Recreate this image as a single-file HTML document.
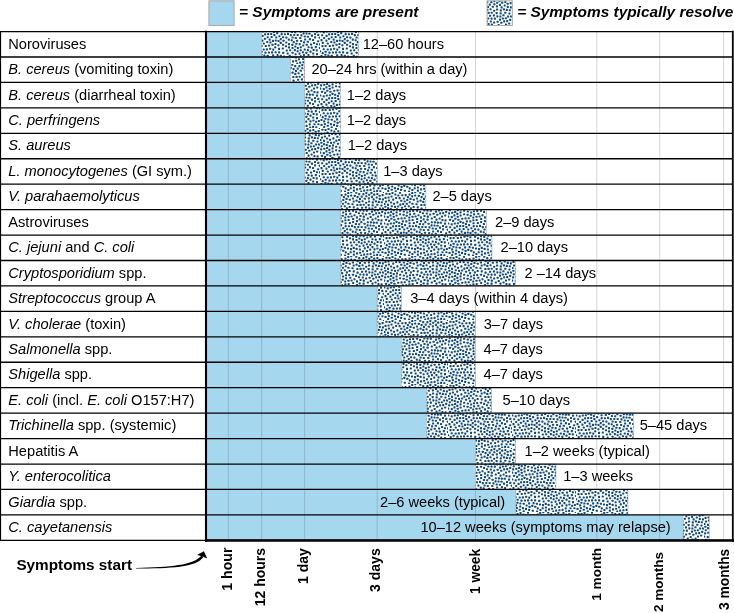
<!DOCTYPE html>
<html><head><meta charset="utf-8"><title>Symptoms timeline</title>
<style>html,body{margin:0;padding:0;background:#fff}svg{display:block;will-change:transform;opacity:.9999}
text{font-family:"Liberation Sans",Arial,sans-serif;fill:#000}
.t{font-size:14.64px}.i{font-style:italic}
.lg{font-size:15.42px;font-weight:bold;font-style:italic}
.ss{font-size:15.3px;font-weight:bold}
.ax{font-size:14px;font-weight:bold;text-anchor:end}
</style></head><body>
<svg width="734" height="613" viewBox="0 0 734 613">
<defs><pattern id="dp" width="64.0" height="64.0" patternUnits="userSpaceOnUse"><rect width="64.0" height="64.0" fill="#fff"/><g fill="#0f4b7d"><rect x="19.63" y="8.49" width="2.1" height="2.1" rx=".55"/><rect x="40.72" y="3.56" width="2.1" height="2.1" rx=".55"/><rect x="33.41" y="22.15" width="2.1" height="2.1" rx=".55"/><rect x="2.66" y="31.35" width="2.1" height="2.1" rx=".55"/><rect x="0.99" y="26.82" width="2.1" height="2.1" rx=".55"/><rect x="3.47" y="4.47" width="2.1" height="2.1" rx=".55"/><rect x="26.14" y="51.81" width="2.1" height="2.1" rx=".55"/><rect x="6.71" y="13.13" width="2.1" height="2.1" rx=".55"/><rect x="39.09" y="59.67" width="2.1" height="2.1" rx=".55"/><rect x="35.90" y="24.33" width="2.1" height="2.1" rx=".55"/><rect x="61.63" y="2.06" width="2.1" height="2.1" rx=".55"/><rect x="53.82" y="17.43" width="2.1" height="2.1" rx=".55"/><rect x="8.15" y="6.55" width="2.1" height="2.1" rx=".55"/><rect x="18.59" y="51.16" width="2.1" height="2.1" rx=".55"/><rect x="10.62" y="36.15" width="2.1" height="2.1" rx=".55"/><rect x="39.50" y="23.00" width="2.1" height="2.1" rx=".55"/><rect x="33.76" y="2.81" width="2.1" height="2.1" rx=".55"/><rect x="2.99" y="11.78" width="2.1" height="2.1" rx=".55"/><rect x="42.51" y="26.61" width="2.1" height="2.1" rx=".55"/><rect x="19.20" y="36.43" width="2.1" height="2.1" rx=".55"/><rect x="28.13" y="17.93" width="2.1" height="2.1" rx=".55"/><rect x="49.62" y="43.69" width="2.1" height="2.1" rx=".55"/><rect x="14.58" y="35.99" width="2.1" height="2.1" rx=".55"/><rect x="32.72" y="54.85" width="2.1" height="2.1" rx=".55"/><rect x="45.76" y="17.62" width="2.1" height="2.1" rx=".55"/><rect x="61.85" y="6.37" width="2.1" height="2.1" rx=".55"/><rect x="25.73" y="47.43" width="2.1" height="2.1" rx=".55"/><rect x="8.78" y="30.19" width="2.1" height="2.1" rx=".55"/><rect x="1.79" y="41.78" width="2.1" height="2.1" rx=".55"/><rect x="47.67" y="35.46" width="2.1" height="2.1" rx=".55"/><rect x="43.19" y="36.98" width="2.1" height="2.1" rx=".55"/><rect x="35.90" y="28.03" width="2.1" height="2.1" rx=".55"/><rect x="52.66" y="59.32" width="2.1" height="2.1" rx=".55"/><rect x="29.24" y="41.39" width="2.1" height="2.1" rx=".55"/><rect x="40.17" y="62.60" width="2.1" height="2.1" rx=".55"/><rect x="23.69" y="41.79" width="2.1" height="2.1" rx=".55"/><rect x="2.65" y="48.14" width="2.1" height="2.1" rx=".55"/><rect x="23.89" y="54.66" width="2.1" height="2.1" rx=".55"/><rect x="4.03" y="27.80" width="2.1" height="2.1" rx=".55"/><rect x="51.42" y="54.04" width="2.1" height="2.1" rx=".55"/><rect x="16.48" y="25.34" width="2.1" height="2.1" rx=".55"/><rect x="10.00" y="13.79" width="2.1" height="2.1" rx=".55"/><rect x="14.03" y="29.74" width="2.1" height="2.1" rx=".55"/><rect x="36.52" y="15.61" width="2.1" height="2.1" rx=".55"/><rect x="22.30" y="35.16" width="2.1" height="2.1" rx=".55"/><rect x="59.83" y="43.17" width="2.1" height="2.1" rx=".55"/><rect x="31.77" y="38.53" width="2.1" height="2.1" rx=".55"/><rect x="56.54" y="49.01" width="2.1" height="2.1" rx=".55"/><rect x="24.19" y="24.40" width="2.1" height="2.1" rx=".55"/><rect x="5.38" y="39.56" width="2.1" height="2.1" rx=".55"/><rect x="12.32" y="9.33" width="2.1" height="2.1" rx=".55"/><rect x="20.56" y="2.09" width="2.1" height="2.1" rx=".55"/><rect x="5.40" y="22.33" width="2.1" height="2.1" rx=".55"/><rect x="0.47" y="54.93" width="2.1" height="2.1" rx=".55"/><rect x="38.26" y="8.86" width="2.1" height="2.1" rx=".55"/><rect x="15.06" y="21.24" width="2.1" height="2.1" rx=".55"/><rect x="22.23" y="6.95" width="2.1" height="2.1" rx=".55"/><rect x="53.16" y="62.40" width="2.1" height="2.1" rx=".55"/><rect x="28.78" y="29.97" width="2.1" height="2.1" rx=".55"/><rect x="21.09" y="16.09" width="2.1" height="2.1" rx=".55"/><rect x="51.73" y="9.36" width="2.1" height="2.1" rx=".55"/><rect x="0.47" y="59.83" width="2.1" height="2.1" rx=".55"/><rect x="32.61" y="8.43" width="2.1" height="2.1" rx=".55"/><rect x="32.84" y="61.61" width="2.1" height="2.1" rx=".55"/><rect x="54.01" y="43.41" width="2.1" height="2.1" rx=".55"/><rect x="9.84" y="48.34" width="2.1" height="2.1" rx=".55"/><rect x="33.17" y="49.20" width="2.1" height="2.1" rx=".55"/><rect x="20.06" y="13.26" width="2.1" height="2.1" rx=".55"/><rect x="53.49" y="50.59" width="2.1" height="2.1" rx=".55"/><rect x="51.42" y="46.17" width="2.1" height="2.1" rx=".55"/><rect x="0.72" y="17.13" width="2.1" height="2.1" rx=".55"/><rect x="15.46" y="43.64" width="2.1" height="2.1" rx=".55"/><rect x="60.51" y="27.37" width="2.1" height="2.1" rx=".55"/><rect x="59.22" y="62.32" width="2.1" height="2.1" rx=".55"/><rect x="60.18" y="22.43" width="2.1" height="2.1" rx=".55"/><rect x="13.13" y="13.46" width="2.1" height="2.1" rx=".55"/><rect x="38.87" y="56.48" width="2.1" height="2.1" rx=".55"/><rect x="52.77" y="29.58" width="2.1" height="2.1" rx=".55"/><rect x="40.55" y="50.27" width="2.1" height="2.1" rx=".55"/><rect x="46.74" y="29.21" width="2.1" height="2.1" rx=".55"/><rect x="24.69" y="59.32" width="2.1" height="2.1" rx=".55"/><rect x="45.10" y="9.72" width="2.1" height="2.1" rx=".55"/><rect x="8.42" y="51.61" width="2.1" height="2.1" rx=".55"/><rect x="7.47" y="-0.08" width="2.1" height="2.1" rx=".55"/><rect x="61.08" y="40.20" width="2.1" height="2.1" rx=".55"/><rect x="32.84" y="58.43" width="2.1" height="2.1" rx=".55"/><rect x="51.65" y="12.35" width="2.1" height="2.1" rx=".55"/><rect x="15.11" y="17.69" width="2.1" height="2.1" rx=".55"/><rect x="7.19" y="57.38" width="2.1" height="2.1" rx=".55"/><rect x="21.32" y="28.36" width="2.1" height="2.1" rx=".55"/><rect x="30.98" y="32.87" width="2.1" height="2.1" rx=".55"/><rect x="27.37" y="10.76" width="2.1" height="2.1" rx=".55"/><rect x="-0.88" y="50.21" width="2.1" height="2.1" rx=".55"/><rect x="20.09" y="32.05" width="2.1" height="2.1" rx=".55"/><rect x="5.55" y="34.86" width="2.1" height="2.1" rx=".55"/><rect x="57.40" y="27.10" width="2.1" height="2.1" rx=".55"/><rect x="38.18" y="31.23" width="2.1" height="2.1" rx=".55"/><rect x="31.95" y="43.10" width="2.1" height="2.1" rx=".55"/><rect x="27.84" y="33.18" width="2.1" height="2.1" rx=".55"/><rect x="29.64" y="59.23" width="2.1" height="2.1" rx=".55"/><rect x="43.73" y="55.31" width="2.1" height="2.1" rx=".55"/><rect x="59.05" y="15.47" width="2.1" height="2.1" rx=".55"/><rect x="49.18" y="56.53" width="2.1" height="2.1" rx=".55"/><rect x="8.76" y="44.95" width="2.1" height="2.1" rx=".55"/><rect x="41.47" y="8.17" width="2.1" height="2.1" rx=".55"/><rect x="12.96" y="59.87" width="2.1" height="2.1" rx=".55"/><rect x="24.50" y="30.18" width="2.1" height="2.1" rx=".55"/><rect x="9.37" y="26.69" width="2.1" height="2.1" rx=".55"/><rect x="11.49" y="19.32" width="2.1" height="2.1" rx=".55"/><rect x="45.30" y="0.07" width="2.1" height="2.1" rx=".55"/><rect x="0.08" y="20.29" width="2.1" height="2.1" rx=".55"/><rect x="3.16" y="61.98" width="2.1" height="2.1" rx=".55"/><rect x="49.49" y="60.83" width="2.1" height="2.1" rx=".55"/><rect x="5.67" y="15.95" width="2.1" height="2.1" rx=".55"/><rect x="16.24" y="7.66" width="2.1" height="2.1" rx=".55"/><rect x="51.35" y="15.44" width="2.1" height="2.1" rx=".55"/><rect x="35.24" y="43.82" width="2.1" height="2.1" rx=".55"/><rect x="3.80" y="59.06" width="2.1" height="2.1" rx=".55"/><rect x="4.40" y="53.71" width="2.1" height="2.1" rx=".55"/><rect x="32.74" y="14.28" width="2.1" height="2.1" rx=".55"/><rect x="6.05" y="9.49" width="2.1" height="2.1" rx=".55"/><rect x="18.77" y="18.44" width="2.1" height="2.1" rx=".55"/><rect x="14.94" y="-0.24" width="2.1" height="2.1" rx=".55"/><rect x="58.75" y="5.86" width="2.1" height="2.1" rx=".55"/><rect x="51.46" y="26.54" width="2.1" height="2.1" rx=".55"/><rect x="30.59" y="52.49" width="2.1" height="2.1" rx=".55"/><rect x="44.11" y="39.89" width="2.1" height="2.1" rx=".55"/><rect x="25.04" y="21.31" width="2.1" height="2.1" rx=".55"/><rect x="16.97" y="14.64" width="2.1" height="2.1" rx=".55"/><rect x="17.86" y="28.29" width="2.1" height="2.1" rx=".55"/><rect x="16.03" y="60.78" width="2.1" height="2.1" rx=".55"/><rect x="61.25" y="33.87" width="2.1" height="2.1" rx=".55"/><rect x="18.56" y="21.76" width="2.1" height="2.1" rx=".55"/><rect x="-0.84" y="23.54" width="2.1" height="2.1" rx=".55"/><rect x="1.41" y="0.71" width="2.1" height="2.1" rx=".55"/><rect x="47.03" y="41.32" width="2.1" height="2.1" rx=".55"/><rect x="1.64" y="52.12" width="2.1" height="2.1" rx=".55"/><rect x="55.99" y="38.98" width="2.1" height="2.1" rx=".55"/><rect x="45.89" y="51.13" width="2.1" height="2.1" rx=".55"/><rect x="42.61" y="43.11" width="2.1" height="2.1" rx=".55"/><rect x="34.62" y="39.24" width="2.1" height="2.1" rx=".55"/><rect x="39.30" y="42.63" width="2.1" height="2.1" rx=".55"/><rect x="30.23" y="-0.87" width="2.1" height="2.1" rx=".55"/><rect x="46.37" y="61.23" width="2.1" height="2.1" rx=".55"/><rect x="30.55" y="23.46" width="2.1" height="2.1" rx=".55"/><rect x="48.13" y="38.44" width="2.1" height="2.1" rx=".55"/><rect x="35.25" y="-0.24" width="2.1" height="2.1" rx=".55"/><rect x="42.49" y="17.56" width="2.1" height="2.1" rx=".55"/><rect x="32.07" y="28.98" width="2.1" height="2.1" rx=".55"/><rect x="28.74" y="6.63" width="2.1" height="2.1" rx=".55"/><rect x="56.20" y="11.71" width="2.1" height="2.1" rx=".55"/><rect x="61.36" y="59.16" width="2.1" height="2.1" rx=".55"/><rect x="13.55" y="56.49" width="2.1" height="2.1" rx=".55"/><rect x="-0.70" y="30.39" width="2.1" height="2.1" rx=".55"/><rect x="8.31" y="20.78" width="2.1" height="2.1" rx=".55"/><rect x="62.85" y="46.96" width="2.1" height="2.1" rx=".55"/><rect x="56.77" y="17.24" width="2.1" height="2.1" rx=".55"/><rect x="62.67" y="36.64" width="2.1" height="2.1" rx=".55"/><rect x="31.48" y="11.24" width="2.1" height="2.1" rx=".55"/><rect x="17.26" y="2.17" width="2.1" height="2.1" rx=".55"/><rect x="29.21" y="20.76" width="2.1" height="2.1" rx=".55"/><rect x="18.18" y="46.26" width="2.1" height="2.1" rx=".55"/><rect x="11.10" y="4.94" width="2.1" height="2.1" rx=".55"/><rect x="35.60" y="55.80" width="2.1" height="2.1" rx=".55"/><rect x="46.71" y="25.47" width="2.1" height="2.1" rx=".55"/><rect x="59.95" y="53.12" width="2.1" height="2.1" rx=".55"/><rect x="6.48" y="3.52" width="2.1" height="2.1" rx=".55"/><rect x="23.75" y="13.22" width="2.1" height="2.1" rx=".55"/><rect x="55.69" y="29.64" width="2.1" height="2.1" rx=".55"/><rect x="25.81" y="15.37" width="2.1" height="2.1" rx=".55"/><rect x="41.95" y="58.14" width="2.1" height="2.1" rx=".55"/><rect x="42.67" y="11.66" width="2.1" height="2.1" rx=".55"/><rect x="61.10" y="18.79" width="2.1" height="2.1" rx=".55"/><rect x="13.09" y="47.64" width="2.1" height="2.1" rx=".55"/><rect x="13.16" y="25.64" width="2.1" height="2.1" rx=".55"/><rect x="2.76" y="24.04" width="2.1" height="2.1" rx=".55"/><rect x="56.37" y="55.51" width="2.1" height="2.1" rx=".55"/><rect x="60.42" y="12.41" width="2.1" height="2.1" rx=".55"/><rect x="22.06" y="51.32" width="2.1" height="2.1" rx=".55"/><rect x="11.57" y="22.42" width="2.1" height="2.1" rx=".55"/><rect x="56.28" y="0.89" width="2.1" height="2.1" rx=".55"/><rect x="48.14" y="1.69" width="2.1" height="2.1" rx=".55"/><rect x="37.91" y="20.20" width="2.1" height="2.1" rx=".55"/><rect x="1.05" y="34.23" width="2.1" height="2.1" rx=".55"/><rect x="19.80" y="61.69" width="2.1" height="2.1" rx=".55"/><rect x="24.01" y="62.45" width="2.1" height="2.1" rx=".55"/><rect x="50.77" y="40.69" width="2.1" height="2.1" rx=".55"/><rect x="8.67" y="17.03" width="2.1" height="2.1" rx=".55"/><rect x="5.78" y="30.46" width="2.1" height="2.1" rx=".55"/><rect x="30.12" y="2.41" width="2.1" height="2.1" rx=".55"/><rect x="52.58" y="6.34" width="2.1" height="2.1" rx=".55"/><rect x="37.22" y="34.01" width="2.1" height="2.1" rx=".55"/><rect x="26.06" y="36.14" width="2.1" height="2.1" rx=".55"/><rect x="27.62" y="26.96" width="2.1" height="2.1" rx=".55"/><rect x="47.68" y="48.50" width="2.1" height="2.1" rx=".55"/><rect x="54.91" y="34.59" width="2.1" height="2.1" rx=".55"/><rect x="21.99" y="47.84" width="2.1" height="2.1" rx=".55"/><rect x="0.99" y="8.43" width="2.1" height="2.1" rx=".55"/><rect x="38.61" y="26.35" width="2.1" height="2.1" rx=".55"/><rect x="36.33" y="12.01" width="2.1" height="2.1" rx=".55"/><rect x="58.80" y="46.05" width="2.1" height="2.1" rx=".55"/><rect x="49.43" y="32.51" width="2.1" height="2.1" rx=".55"/><rect x="15.89" y="39.86" width="2.1" height="2.1" rx=".55"/><rect x="55.11" y="20.32" width="2.1" height="2.1" rx=".55"/><rect x="12.61" y="38.53" width="2.1" height="2.1" rx=".55"/><rect x="43.71" y="46.17" width="2.1" height="2.1" rx=".55"/><rect x="3.12" y="36.91" width="2.1" height="2.1" rx=".55"/><rect x="57.44" y="59.22" width="2.1" height="2.1" rx=".55"/><rect x="39.25" y="17.40" width="2.1" height="2.1" rx=".55"/><rect x="47.58" y="12.05" width="2.1" height="2.1" rx=".55"/><rect x="22.11" y="19.47" width="2.1" height="2.1" rx=".55"/><rect x="21.34" y="44.20" width="2.1" height="2.1" rx=".55"/><rect x="43.53" y="30.77" width="2.1" height="2.1" rx=".55"/><rect x="43.61" y="49.22" width="2.1" height="2.1" rx=".55"/><rect x="55.66" y="4.50" width="2.1" height="2.1" rx=".55"/><rect x="7.94" y="37.65" width="2.1" height="2.1" rx=".55"/><rect x="35.47" y="46.95" width="2.1" height="2.1" rx=".55"/><rect x="10.22" y="40.96" width="2.1" height="2.1" rx=".55"/><rect x="26.01" y="43.77" width="2.1" height="2.1" rx=".55"/><rect x="21.41" y="39.92" width="2.1" height="2.1" rx=".55"/><rect x="52.26" y="21.77" width="2.1" height="2.1" rx=".55"/><rect x="26.48" y="39.74" width="2.1" height="2.1" rx=".55"/><rect x="41.01" y="14.69" width="2.1" height="2.1" rx=".55"/><rect x="37.81" y="49.03" width="2.1" height="2.1" rx=".55"/><rect x="26.96" y="55.46" width="2.1" height="2.1" rx=".55"/><rect x="39.97" y="39.65" width="2.1" height="2.1" rx=".55"/><rect x="20.56" y="54.11" width="2.1" height="2.1" rx=".55"/><rect x="1.46" y="45.12" width="2.1" height="2.1" rx=".55"/><rect x="-0.60" y="10.96" width="2.1" height="2.1" rx=".55"/><rect x="47.81" y="5.30" width="2.1" height="2.1" rx=".55"/><rect x="10.35" y="1.45" width="2.1" height="2.1" rx=".55"/><rect x="50.86" y="35.71" width="2.1" height="2.1" rx=".55"/><rect x="25.45" y="5.84" width="2.1" height="2.1" rx=".55"/><rect x="6.70" y="60.75" width="2.1" height="2.1" rx=".55"/><rect x="44.87" y="14.35" width="2.1" height="2.1" rx=".55"/><rect x="50.98" y="3.86" width="2.1" height="2.1" rx=".55"/><rect x="59.70" y="49.31" width="2.1" height="2.1" rx=".55"/><rect x="4.59" y="50.67" width="2.1" height="2.1" rx=".55"/><rect x="29.35" y="36.54" width="2.1" height="2.1" rx=".55"/><rect x="13.30" y="2.39" width="2.1" height="2.1" rx=".55"/><rect x="44.42" y="34.32" width="2.1" height="2.1" rx=".55"/><rect x="19.26" y="56.82" width="2.1" height="2.1" rx=".55"/><rect x="15.29" y="11.58" width="2.1" height="2.1" rx=".55"/><rect x="52.41" y="32.69" width="2.1" height="2.1" rx=".55"/><rect x="35.51" y="7.61" width="2.1" height="2.1" rx=".55"/><rect x="60.00" y="30.55" width="2.1" height="2.1" rx=".55"/><rect x="15.03" y="51.36" width="2.1" height="2.1" rx=".55"/><rect x="43.81" y="5.76" width="2.1" height="2.1" rx=".55"/><rect x="48.54" y="20.67" width="2.1" height="2.1" rx=".55"/><rect x="52.85" y="38.09" width="2.1" height="2.1" rx=".55"/><rect x="11.94" y="44.43" width="2.1" height="2.1" rx=".55"/><rect x="54.40" y="14.26" width="2.1" height="2.1" rx=".55"/><rect x="38.54" y="53.27" width="2.1" height="2.1" rx=".55"/><rect x="34.88" y="30.99" width="2.1" height="2.1" rx=".55"/><rect x="45.11" y="21.44" width="2.1" height="2.1" rx=".55"/><rect x="27.45" y="23.69" width="2.1" height="2.1" rx=".55"/><rect x="36.05" y="60.34" width="2.1" height="2.1" rx=".55"/><rect x="50.94" y="18.58" width="2.1" height="2.1" rx=".55"/><rect x="29.73" y="49.42" width="2.1" height="2.1" rx=".55"/><rect x="21.88" y="10.72" width="2.1" height="2.1" rx=".55"/><rect x="35.07" y="18.83" width="2.1" height="2.1" rx=".55"/><rect x="46.20" y="44.47" width="2.1" height="2.1" rx=".55"/><rect x="4.53" y="44.92" width="2.1" height="2.1" rx=".55"/><rect x="27.30" y="60.97" width="2.1" height="2.1" rx=".55"/><rect x="32.08" y="25.92" width="2.1" height="2.1" rx=".55"/><rect x="36.55" y="4.07" width="2.1" height="2.1" rx=".55"/><rect x="58.02" y="36.31" width="2.1" height="2.1" rx=".55"/><rect x="11.10" y="33.06" width="2.1" height="2.1" rx=".55"/><rect x="38.27" y="45.42" width="2.1" height="2.1" rx=".55"/><rect x="46.07" y="57.90" width="2.1" height="2.1" rx=".55"/><rect x="33.76" y="34.05" width="2.1" height="2.1" rx=".55"/><rect x="43.13" y="61.55" width="2.1" height="2.1" rx=".55"/><rect x="62.72" y="-1.01" width="2.1" height="2.1" rx=".55"/><rect x="40.60" y="34.02" width="2.1" height="2.1" rx=".55"/><rect x="28.95" y="45.15" width="2.1" height="2.1" rx=".55"/><rect x="57.97" y="32.89" width="2.1" height="2.1" rx=".55"/><rect x="24.44" y="1.53" width="2.1" height="2.1" rx=".55"/><rect x="54.88" y="8.32" width="2.1" height="2.1" rx=".55"/><rect x="21.64" y="22.74" width="2.1" height="2.1" rx=".55"/><rect x="9.83" y="59.09" width="2.1" height="2.1" rx=".55"/><rect x="31.97" y="17.67" width="2.1" height="2.1" rx=".55"/><rect x="28.59" y="14.00" width="2.1" height="2.1" rx=".55"/><rect x="6.70" y="42.50" width="2.1" height="2.1" rx=".55"/><rect x="35.56" y="51.77" width="2.1" height="2.1" rx=".55"/><rect x="22.17" y="57.67" width="2.1" height="2.1" rx=".55"/><rect x="10.76" y="54.74" width="2.1" height="2.1" rx=".55"/><rect x="3.21" y="19.65" width="2.1" height="2.1" rx=".55"/><rect x="56.98" y="23.38" width="2.1" height="2.1" rx=".55"/><rect x="27.17" y="3.31" width="2.1" height="2.1" rx=".55"/><rect x="49.30" y="51.79" width="2.1" height="2.1" rx=".55"/><rect x="48.03" y="8.49" width="2.1" height="2.1" rx=".55"/><rect x="0.29" y="13.72" width="2.1" height="2.1" rx=".55"/><rect x="60.76" y="9.23" width="2.1" height="2.1" rx=".55"/><rect x="40.31" y="29.12" width="2.1" height="2.1" rx=".55"/><rect x="19.67" y="25.21" width="2.1" height="2.1" rx=".55"/><rect x="18.69" y="39.51" width="2.1" height="2.1" rx=".55"/><rect x="46.85" y="54.08" width="2.1" height="2.1" rx=".55"/><rect x="42.38" y="1.10" width="2.1" height="2.1" rx=".55"/><rect x="16.81" y="31.07" width="2.1" height="2.1" rx=".55"/><rect x="16.23" y="48.57" width="2.1" height="2.1" rx=".55"/><rect x="24.66" y="9.18" width="2.1" height="2.1" rx=".55"/><rect x="38.20" y="1.12" width="2.1" height="2.1" rx=".55"/><rect x="61.85" y="55.94" width="2.1" height="2.1" rx=".55"/><rect x="16.54" y="57.79" width="2.1" height="2.1" rx=".55"/><rect x="6.69" y="48.50" width="2.1" height="2.1" rx=".55"/><rect x="54.54" y="25.45" width="2.1" height="2.1" rx=".55"/><rect x="56.19" y="52.40" width="2.1" height="2.1" rx=".55"/><rect x="39.51" y="11.85" width="2.1" height="2.1" rx=".55"/><rect x="11.88" y="51.38" width="2.1" height="2.1" rx=".55"/><rect x="0.47" y="4.85" width="2.1" height="2.1" rx=".55"/><rect x="18.79" y="5.38" width="2.1" height="2.1" rx=".55"/><rect x="16.08" y="54.35" width="2.1" height="2.1" rx=".55"/><rect x="4.51" y="0.97" width="2.1" height="2.1" rx=".55"/><rect x="41.72" y="20.52" width="2.1" height="2.1" rx=".55"/><rect x="59.03" y="56.65" width="2.1" height="2.1" rx=".55"/><rect x="31.86" y="5.42" width="2.1" height="2.1" rx=".55"/><rect x="17.33" y="34.05" width="2.1" height="2.1" rx=".55"/><rect x="10.62" y="62.29" width="2.1" height="2.1" rx=".55"/><rect x="6.06" y="18.87" width="2.1" height="2.1" rx=".55"/><rect x="49.64" y="23.95" width="2.1" height="2.1" rx=".55"/><rect x="24.62" y="33.12" width="2.1" height="2.1" rx=".55"/><rect x="56.97" y="42.00" width="2.1" height="2.1" rx=".55"/><rect x="48.32" y="15.32" width="2.1" height="2.1" rx=".55"/><rect x="8.96" y="10.74" width="2.1" height="2.1" rx=".55"/><rect x="6.27" y="25.71" width="2.1" height="2.1" rx=".55"/><rect x="14.60" y="5.09" width="2.1" height="2.1" rx=".55"/><rect x="57.76" y="8.87" width="2.1" height="2.1" rx=".55"/><rect x="35.52" y="36.51" width="2.1" height="2.1" rx=".55"/><rect x="38.74" y="36.93" width="2.1" height="2.1" rx=".55"/><rect x="54.68" y="46.61" width="2.1" height="2.1" rx=".55"/><rect x="53.46" y="56.28" width="2.1" height="2.1" rx=".55"/><rect x="50.41" y="-0.17" width="2.1" height="2.1" rx=".55"/><rect x="56.00" y="61.80" width="2.1" height="2.1" rx=".55"/><rect x="42.50" y="52.53" width="2.1" height="2.1" rx=".55"/><rect x="8.05" y="33.30" width="2.1" height="2.1" rx=".55"/><rect x="18.43" y="42.99" width="2.1" height="2.1" rx=".55"/><rect x="58.18" y="20.06" width="2.1" height="2.1" rx=".55"/><rect x="40.82" y="47.05" width="2.1" height="2.1" rx=".55"/><rect x="14.12" y="32.90" width="2.1" height="2.1" rx=".55"/><rect x="11.40" y="28.80" width="2.1" height="2.1" rx=".55"/><rect x="49.78" y="29.30" width="2.1" height="2.1" rx=".55"/><rect x="22.88" y="4.03" width="2.1" height="2.1" rx=".55"/><rect x="27.18" y="-0.01" width="2.1" height="2.1" rx=".55"/><rect x="62.87" y="43.28" width="2.1" height="2.1" rx=".55"/><rect x="36.68" y="41.11" width="2.1" height="2.1" rx=".55"/><rect x="0.44" y="39.05" width="2.1" height="2.1" rx=".55"/><rect x="24.88" y="18.14" width="2.1" height="2.1" rx=".55"/><rect x="8.73" y="23.75" width="2.1" height="2.1" rx=".55"/><rect x="38.91" y="5.87" width="2.1" height="2.1" rx=".55"/><rect x="53.14" y="1.58" width="2.1" height="2.1" rx=".55"/><rect x="11.95" y="16.35" width="2.1" height="2.1" rx=".55"/><rect x="18.07" y="10.94" width="2.1" height="2.1" rx=".55"/><rect x="24.34" y="27.25" width="2.1" height="2.1" rx=".55"/><rect x="13.35" y="41.52" width="2.1" height="2.1" rx=".55"/><rect x="3.03" y="15.08" width="2.1" height="2.1" rx=".55"/><rect x="29.95" y="56.09" width="2.1" height="2.1" rx=".55"/><rect x="46.53" y="32.32" width="2.1" height="2.1" rx=".55"/><rect x="58.65" y="2.73" width="2.1" height="2.1" rx=".55"/><rect x="50.81" y="49.09" width="2.1" height="2.1" rx=".55"/><rect x="61.97" y="15.51" width="2.1" height="2.1" rx=".55"/><rect x="42.76" y="23.59" width="2.1" height="2.1" rx=".55"/><rect x="45.31" y="3.13" width="2.1" height="2.1" rx=".55"/><rect x="7.32" y="54.42" width="2.1" height="2.1" rx=".55"/><rect x="31.90" y="46.34" width="2.1" height="2.1" rx=".55"/><rect x="3.12" y="56.34" width="2.1" height="2.1" rx=".55"/><rect x="23.67" y="38.08" width="2.1" height="2.1" rx=".55"/><rect x="3.90" y="7.48" width="2.1" height="2.1" rx=".55"/></g></pattern></defs>
<rect width="734" height="613" fill="#fff"/>
<rect x="208.9" y="0.8" width="25.2" height="24.7" fill="#a5d7ee" stroke="#a9a9a9" stroke-width="1"/>
<text class="lg" x="239.1" y="17">= Symptoms are present</text>
<rect x="487.1" y="0.8" width="25.2" height="24.7" fill="url(#dp)" stroke="#a9a9a9" stroke-width="1"/>
<text class="lg" x="517.2" y="17">= Symptoms typically resolve</text>
<rect x="206.0" y="31.55" width="55.50" height="25.44" fill="#a5d7ee"/>
<rect x="206.0" y="56.99" width="84.60" height="25.44" fill="#a5d7ee"/>
<rect x="206.0" y="82.43" width="98.60" height="25.44" fill="#a5d7ee"/>
<rect x="206.0" y="107.87" width="98.60" height="25.44" fill="#a5d7ee"/>
<rect x="206.0" y="133.31" width="98.60" height="25.44" fill="#a5d7ee"/>
<rect x="206.0" y="158.75" width="98.60" height="25.44" fill="#a5d7ee"/>
<rect x="206.0" y="184.19" width="134.40" height="25.44" fill="#a5d7ee"/>
<rect x="206.0" y="209.63" width="134.40" height="25.44" fill="#a5d7ee"/>
<rect x="206.0" y="235.07" width="134.40" height="25.44" fill="#a5d7ee"/>
<rect x="206.0" y="260.51" width="134.40" height="25.44" fill="#a5d7ee"/>
<rect x="206.0" y="285.95" width="171.30" height="25.44" fill="#a5d7ee"/>
<rect x="206.0" y="311.39" width="171.30" height="25.44" fill="#a5d7ee"/>
<rect x="206.0" y="336.83" width="195.40" height="25.44" fill="#a5d7ee"/>
<rect x="206.0" y="362.27" width="195.40" height="25.44" fill="#a5d7ee"/>
<rect x="206.0" y="387.71" width="220.30" height="25.44" fill="#a5d7ee"/>
<rect x="206.0" y="413.15" width="220.30" height="25.44" fill="#a5d7ee"/>
<rect x="206.0" y="438.59" width="269.40" height="25.44" fill="#a5d7ee"/>
<rect x="206.0" y="464.03" width="269.40" height="25.44" fill="#a5d7ee"/>
<rect x="206.0" y="489.47" width="309.70" height="25.44" fill="#a5d7ee"/>
<rect x="206.0" y="514.91" width="477.00" height="25.44" fill="#a5d7ee"/>
<line x1="228.4" x2="228.4" y1="31.55" y2="540.35" stroke="rgba(95,100,110,0.27)" stroke-width="1"/>
<line x1="261.6" x2="261.6" y1="31.55" y2="540.35" stroke="rgba(95,100,110,0.27)" stroke-width="1"/>
<line x1="304.6" x2="304.6" y1="31.55" y2="540.35" stroke="rgba(95,100,110,0.27)" stroke-width="1"/>
<line x1="377.2" x2="377.2" y1="31.55" y2="540.35" stroke="rgba(95,100,110,0.27)" stroke-width="1"/>
<line x1="475.5" x2="475.5" y1="31.55" y2="540.35" stroke="rgba(95,100,110,0.27)" stroke-width="1"/>
<line x1="596.8" x2="596.8" y1="31.55" y2="540.35" stroke="rgba(95,100,110,0.27)" stroke-width="1"/>
<line x1="659.7" x2="659.7" y1="31.55" y2="540.35" stroke="rgba(95,100,110,0.27)" stroke-width="1"/>
<line x1="723.6" x2="723.6" y1="31.55" y2="540.35" stroke="rgba(95,100,110,0.27)" stroke-width="1"/>
<rect x="261.50" y="31.55" width="97.30" height="25.44" fill="url(#dp)" stroke="#b5b5b5" stroke-width=".6"/>
<rect x="290.60" y="56.99" width="14.00" height="25.44" fill="url(#dp)" stroke="#b5b5b5" stroke-width=".6"/>
<rect x="304.60" y="82.43" width="36.10" height="25.44" fill="url(#dp)" stroke="#b5b5b5" stroke-width=".6"/>
<rect x="304.60" y="107.87" width="36.10" height="25.44" fill="url(#dp)" stroke="#b5b5b5" stroke-width=".6"/>
<rect x="304.60" y="133.31" width="36.10" height="25.44" fill="url(#dp)" stroke="#b5b5b5" stroke-width=".6"/>
<rect x="304.60" y="158.75" width="72.60" height="25.44" fill="url(#dp)" stroke="#b5b5b5" stroke-width=".6"/>
<rect x="340.40" y="184.19" width="85.50" height="25.44" fill="url(#dp)" stroke="#b5b5b5" stroke-width=".6"/>
<rect x="340.40" y="209.63" width="146.00" height="25.44" fill="url(#dp)" stroke="#b5b5b5" stroke-width=".6"/>
<rect x="340.40" y="235.07" width="151.60" height="25.44" fill="url(#dp)" stroke="#b5b5b5" stroke-width=".6"/>
<rect x="340.40" y="260.51" width="175.20" height="25.44" fill="url(#dp)" stroke="#b5b5b5" stroke-width=".6"/>
<rect x="377.30" y="285.95" width="24.10" height="25.44" fill="url(#dp)" stroke="#b5b5b5" stroke-width=".6"/>
<rect x="377.30" y="311.39" width="97.90" height="25.44" fill="url(#dp)" stroke="#b5b5b5" stroke-width=".6"/>
<rect x="401.40" y="336.83" width="73.80" height="25.44" fill="url(#dp)" stroke="#b5b5b5" stroke-width=".6"/>
<rect x="401.40" y="362.27" width="73.80" height="25.44" fill="url(#dp)" stroke="#b5b5b5" stroke-width=".6"/>
<rect x="426.30" y="387.71" width="65.40" height="25.44" fill="url(#dp)" stroke="#b5b5b5" stroke-width=".6"/>
<rect x="426.30" y="413.15" width="207.40" height="25.44" fill="url(#dp)" stroke="#b5b5b5" stroke-width=".6"/>
<rect x="475.40" y="438.59" width="40.30" height="25.44" fill="url(#dp)" stroke="#b5b5b5" stroke-width=".6"/>
<rect x="475.40" y="464.03" width="80.60" height="25.44" fill="url(#dp)" stroke="#b5b5b5" stroke-width=".6"/>
<rect x="515.70" y="489.47" width="112.30" height="25.44" fill="url(#dp)" stroke="#b5b5b5" stroke-width=".6"/>
<rect x="683.00" y="514.91" width="26.40" height="25.44" fill="url(#dp)" stroke="#b5b5b5" stroke-width=".6"/>
<line x1="0" x2="733.0" y1="31.55" y2="31.55" stroke="#000" stroke-width="1.3"/>
<line x1="0" x2="733.0" y1="56.99" y2="56.99" stroke="#000" stroke-width="1.3"/>
<line x1="0" x2="733.0" y1="82.43" y2="82.43" stroke="#000" stroke-width="1.3"/>
<line x1="0" x2="733.0" y1="107.87" y2="107.87" stroke="#000" stroke-width="1.3"/>
<line x1="0" x2="733.0" y1="133.31" y2="133.31" stroke="#000" stroke-width="1.3"/>
<line x1="0" x2="733.0" y1="158.75" y2="158.75" stroke="#000" stroke-width="1.3"/>
<line x1="0" x2="733.0" y1="184.19" y2="184.19" stroke="#000" stroke-width="1.3"/>
<line x1="0" x2="733.0" y1="209.63" y2="209.63" stroke="#000" stroke-width="1.3"/>
<line x1="0" x2="733.0" y1="235.07" y2="235.07" stroke="#000" stroke-width="1.3"/>
<line x1="0" x2="733.0" y1="260.51" y2="260.51" stroke="#000" stroke-width="1.3"/>
<line x1="0" x2="733.0" y1="285.95" y2="285.95" stroke="#000" stroke-width="1.3"/>
<line x1="0" x2="733.0" y1="311.39" y2="311.39" stroke="#000" stroke-width="1.3"/>
<line x1="0" x2="733.0" y1="336.83" y2="336.83" stroke="#000" stroke-width="1.3"/>
<line x1="0" x2="733.0" y1="362.27" y2="362.27" stroke="#000" stroke-width="1.3"/>
<line x1="0" x2="733.0" y1="387.71" y2="387.71" stroke="#000" stroke-width="1.3"/>
<line x1="0" x2="733.0" y1="413.15" y2="413.15" stroke="#000" stroke-width="1.3"/>
<line x1="0" x2="733.0" y1="438.59" y2="438.59" stroke="#000" stroke-width="1.3"/>
<line x1="0" x2="733.0" y1="464.03" y2="464.03" stroke="#000" stroke-width="1.3"/>
<line x1="0" x2="733.0" y1="489.47" y2="489.47" stroke="#000" stroke-width="1.3"/>
<line x1="0" x2="733.0" y1="514.91" y2="514.91" stroke="#000" stroke-width="1.3"/>
<line x1="0" x2="733.0" y1="540.35" y2="540.35" stroke="#000" stroke-width="1.3"/>
<line x1="0.45" x2="0.45" y1="30.95" y2="540.95" stroke="#000" stroke-width="1.3"/>
<line x1="206.0" x2="206.0" y1="30.85" y2="541.65" stroke="#000" stroke-width="2.1"/>
<line x1="732.8" x2="732.8" y1="30.85" y2="541.65" stroke="#000" stroke-width="1.8"/>
<line x1="205.0" x2="734" y1="540.60" y2="540.60" stroke="#000" stroke-width="2.5"/>
<text class="t" x="8.3" y="48.70" xml:space="preserve">Noroviruses</text>
<text class="t" x="362.7" y="48.70">12–60 hours</text>
<text class="t" x="8.3" y="74.14" xml:space="preserve"><tspan class="i">B. cereus</tspan> (vomiting toxin)</text>
<text class="t" x="311.4" y="74.14">20–24 hrs (within a day)</text>
<text class="t" x="8.3" y="99.58" xml:space="preserve"><tspan class="i">B. cereus</tspan> (diarrheal toxin)</text>
<text class="t" x="346.8" y="99.58">1–2 days</text>
<text class="t" x="8.3" y="125.02" xml:space="preserve"><tspan class="i">C. perfringens</tspan></text>
<text class="t" x="346.8" y="125.02">1–2 days</text>
<text class="t" x="8.3" y="150.46" xml:space="preserve"><tspan class="i">S. aureus</tspan></text>
<text class="t" x="347.7" y="150.46">1–2 days</text>
<text class="t" x="8.3" y="175.90" xml:space="preserve"><tspan class="i">L. monocytogenes</tspan> (GI sym.)</text>
<text class="t" x="383.2" y="175.90">1–3 days</text>
<text class="t" x="8.3" y="201.34" xml:space="preserve"><tspan class="i">V. parahaemolyticus</tspan></text>
<text class="t" x="432.4" y="201.34">2–5 days</text>
<text class="t" x="8.3" y="226.78" xml:space="preserve">Astroviruses</text>
<text class="t" x="495.0" y="226.78">2–9 days</text>
<text class="t" x="8.3" y="252.22" xml:space="preserve"><tspan class="i">C. jejuni</tspan> and <tspan class="i">C. coli</tspan></text>
<text class="t" x="500.5" y="252.22">2–10 days</text>
<text class="t" x="8.3" y="277.66" xml:space="preserve"><tspan class="i">Cryptosporidium</tspan> spp.</text>
<text class="t" x="524.5" y="277.66">2 –14 days</text>
<text class="t" x="8.3" y="303.10" xml:space="preserve"><tspan class="i">Streptococcus</tspan> group A</text>
<text class="t" x="410.2" y="303.10">3–4 days (within 4 days)</text>
<text class="t" x="8.3" y="328.54" xml:space="preserve"><tspan class="i">V. cholerae</tspan> (toxin)</text>
<text class="t" x="483.7" y="328.54">3–7 days</text>
<text class="t" x="8.3" y="353.98" xml:space="preserve"><tspan class="i">Salmonella</tspan> spp.</text>
<text class="t" x="483.5" y="353.98">4–7 days</text>
<text class="t" x="8.3" y="379.42" xml:space="preserve"><tspan class="i">Shigella</tspan> spp.</text>
<text class="t" x="483.5" y="379.42">4–7 days</text>
<text class="t" x="8.3" y="404.86" xml:space="preserve"><tspan class="i">E. coli</tspan> (incl. <tspan class="i">E. coli</tspan> O157:H7)</text>
<text class="t" x="502.6" y="404.86">5–10 days</text>
<text class="t" x="8.3" y="430.30" xml:space="preserve"><tspan class="i">Trichinella</tspan> spp. (systemic)</text>
<text class="t" x="639.7" y="430.30">5–45 days</text>
<text class="t" x="8.3" y="455.74" xml:space="preserve">Hepatitis A</text>
<text class="t" x="524.6" y="455.74">1–2 weeks (typical)</text>
<text class="t" x="8.3" y="481.18" xml:space="preserve"><tspan class="i">Y. enterocolitica</tspan></text>
<text class="t" x="563.2" y="481.18">1–3 weeks</text>
<text class="t" x="8.3" y="506.62" xml:space="preserve"><tspan class="i">Giardia</tspan> spp.</text>
<text class="t" x="380.0" y="506.62">2–6 weeks (typical)</text>
<text class="t" x="8.3" y="532.06" xml:space="preserve"><tspan class="i">C. cayetanensis</tspan></text>
<text class="t" x="420.4" y="532.06">10–12 weeks (symptoms may relapse)</text>
<text class="ax" style="font-size:14.1px" transform="translate(232.2,547.6) rotate(-90)">1 hour</text>
<text class="ax" style="font-size:14.0px" transform="translate(265.4,547.9) rotate(-90)">12 hours</text>
<text class="ax" style="font-size:14.0px" transform="translate(307.9,548.2) rotate(-90)">1 day</text>
<text class="ax" style="font-size:14.0px" transform="translate(379.9,548.3) rotate(-90)">3 days</text>
<text class="ax" style="font-size:13.8px" transform="translate(480.2,548.8) rotate(-90)">1 week</text>
<text class="ax" style="font-size:13.65px" transform="translate(601.1,547.8) rotate(-90)">1 month</text>
<text class="ax" style="font-size:13.5px" transform="translate(663.1,552.0) rotate(-90)">2 months</text>
<text class="ax" style="font-size:13.8px" transform="translate(728.8,548.7) rotate(-90)">3 months</text>
<text class="ss" x="16.4" y="570.3">Symptoms start</text>
<path d="M136,568 C170,567.3 194,565.4 201.4,555.6 L203.4,556.9 C196.5,567.4 170,568.3 136,568.5 Z" fill="#000"/>
<path d="M203.9,551.2 L197.1,555 L202,556.2 L207.2,558.5 Z" fill="#000"/>
</svg></body></html>
